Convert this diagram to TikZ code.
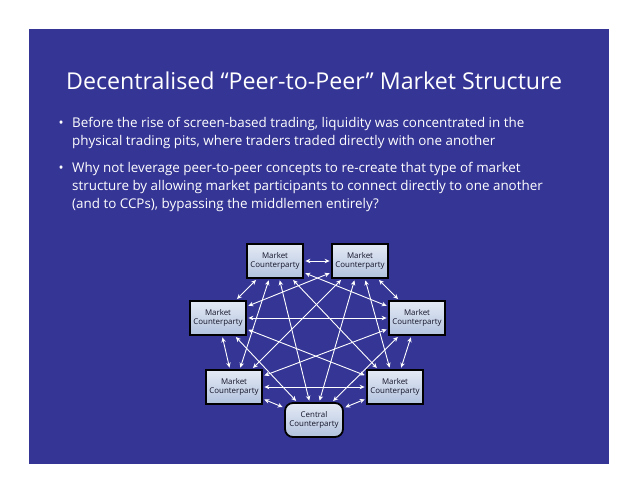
\documentclass[tikz,border=0pt]{standalone}
\usepackage{fontspec}
\setmainfont{Open Sans}
\usetikzlibrary{shapes.geometric,arrows,arrows.meta,positioning,calc}

\definecolor{slideblue}{RGB}{53,53,150}
\definecolor{boxtop}{RGB}{228,234,245}
\definecolor{boxbot}{RGB}{178,194,222}
\definecolor{boxtext}{RGB}{20,20,40}

\tikzset{
  party/.style={draw=black, line width=1.8pt, top color=boxtop, bottom color=boxbot,
    minimum width=56pt, minimum height=34pt, inner sep=1pt, align=center,
    text=boxtext, font=\fontsize{7.9}{9.6}\selectfont},
  ccpbox/.style={party, rounded corners=8pt, minimum width=58pt},
  link/.style={<->, white, line width=0.9pt, shorten >=1.5pt, shorten <=1.5pt},
  bullettext/.style={anchor=base west, text=white, inner sep=0pt,
    font=\fontsize{13.4}{18}\selectfont}
}

\begin{document}
\begin{tikzpicture}[>={Stealth[length=5pt,width=4.5pt]}, x=1pt, y=1pt]
    % Slide background
    \useasboundingbox (0,0) rectangle (638,-493);
    \fill[white] (0,0) rectangle (638,-493);
    \fill[slideblue] (29,-29) rectangle (609,-464);

    % Title and bullets
    \node[anchor=base west, text=white, inner sep=0pt, font=\fontsize{23.2}{28}\selectfont]
        (title) at (66,-89.5) {Decentralised “Peer-to-Peer” Market Structure};
    \node[bullettext] (dotA) at (58.5,-127.5) {\textbullet};
    \node[bullettext] (textA) at (72,-127.5)
        {\parbox[t]{530pt}{Before the rise of screen-based trading, liquidity was concentrated in the\\
         physical trading pits, where traders traded directly with one another}};
    \node[bullettext] (dotB) at (58.5,-172) {\textbullet};
    \node[bullettext] (textB) at (72,-172)
        {\parbox[t]{530pt}{Why not leverage peer-to-peer concepts to re-create that type of market\\
         structure by allowing market participants to connect directly to one another\\
         (and to CCPs), bypassing the middlemen entirely?}};

    % Counterparties
    \node[party] (mcA) at (275,-261) {Market\\Counterparty};
    \node[party] (mcB) at (360,-261) {Market\\Counterparty};
    \node[party] (mcC) at (218,-318) {Market\\Counterparty};
    \node[party] (mcD) at (417,-318) {Market\\Counterparty};
    \node[party] (mcE) at (234,-387) {Market\\Counterparty};
    \node[party] (mcF) at (395,-387) {Market\\Counterparty};
    \node[ccpbox] (ccp) at (314,-420) {Central\\Counterparty};

    % Every party linked to every other one
    \foreach \a/\b in {mcA/mcB, mcA/mcC, mcA/mcD, mcA/mcE, mcA/mcF, mcA/ccp,
                       mcB/mcC, mcB/mcD, mcB/mcE, mcB/mcF, mcB/ccp,
                       mcC/mcD, mcC/mcE, mcC/mcF, mcC/ccp,
                       mcD/mcE, mcD/mcF, mcD/ccp,
                       mcE/mcF, mcE/ccp,
                       mcF/ccp}
        \draw[link] (\a) -- (\b);
\end{tikzpicture}
\end{document}
